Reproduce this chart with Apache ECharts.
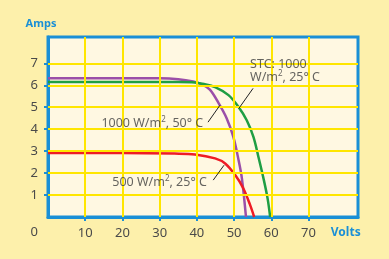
<!DOCTYPE html>
<html>
<head>
<meta charset="utf-8">
<script src="https://cdn.jsdelivr.net/npm/echarts@6/dist/echarts.min.js"></script>
<style>
  html, body { margin: 0; padding: 0; background: #fdf0ab; }
  #chart { width: 389px; height: 259px; }
</style>
</head>
<body>
<div id="chart"></div>
<script>
// tick values
var xTicks = [10, 20, 30, 40, 50, 60, 70];
var yTicks = [1, 2, 3, 4, 5, 6, 7];

// STC: 1000 W/m2, 25 C (green)
var stcVolts = [0, 20, 35, 39.5, 41.5, 44.9, 48.5, 51.2, 53.4, 55.2, 56.6, 57.9, 59, 59.7];
var stcAmps  = [6.15, 6.15, 6.15, 6.13, 6.07, 5.92, 5.55, 5.01, 4.41, 3.65, 2.7, 1.76, 0.85, 0];

// 1000 W/m2, 50 C (purple)
var hotVolts = [0, 20, 30, 35, 39, 41.5, 43.5, 45.8, 48, 49.8, 51.2, 52.1, 53.2];
var hotAmps  = [6.32, 6.32, 6.32, 6.28, 6.17, 6.03, 5.8, 5.2, 4.5, 3.65, 2.6, 1.76, 0];

// 500 W/m2, 25 C (red)
var halfVolts = [0, 20, 34, 39.5, 44.9, 47.6, 50.3, 52.5, 54.3, 55.4];
var halfAmps  = [2.92, 2.92, 2.89, 2.85, 2.67, 2.44, 1.91, 1.3, 0.55, 0];

// annotation anchors [volts, amps] and leader lines
var noteTexts = ['STC: 1000\nW/m{s|2}, 25° C', '1000 W/m{s|2}, 50° C', '500 W/m{s|2}, 25° C'];
var noteAt = [[54.3, 7.25], [41.7, 4.27], [42.7, 1.59]];
var leaderFrom = [[55.1, 5.86], [43, 4.32], [44.4, 1.68]];
var leaderTo = [[51.3, 4.95], [46.2, 5.09], [47.3, 2.36]];

function pairs(xs, ys) {
  return xs.map(function (x, i) { return [x, ys[i]]; });
}

var blue = '#1a8fd6';
var textStyleRich = {
  s: { fontSize: 8, padding: [0, 0, 7, 0], color: '#3d3d3d', fontFamily: 'Noto Sans' }
};

// grid lines only at the labelled ticks (none at 80 V / 8 A)
var gridLines = xTicks.map(function (v) { return { xAxis: v }; })
  .concat(yTicks.map(function (v) { return { yAxis: v }; }));

function curve(name, xs, ys, color, z) {
  return {
    name: name,
    type: 'line',
    data: pairs(xs, ys),
    smooth: 0.35,
    showSymbol: false,
    lineStyle: { color: color, width: 2.5 },
    z: z
  };
}

var chart = echarts.init(document.getElementById('chart'));
var option = {
  animation: false,
  backgroundColor: '#fdf0ab',
  grid: {
    left: 48, right: 31, top: 37, bottom: 42,
    show: true,
    backgroundColor: '#fff8e2',
    borderColor: blue,
    borderWidth: 3
  },
  xAxis: {
    type: 'value',
    min: 0, max: 83.3, interval: 10,
    axisLine: { show: true, lineStyle: { color: blue, width: 3 } },
    axisTick: { show: true, customValues: xTicks, length: 4, lineStyle: { color: blue, width: 2 } },
    splitLine: { show: false },
    axisLabel: {
      customValues: xTicks.concat([80]),
      margin: 10,
      fontSize: 13,
      color: '#4a4a4a',
      fontFamily: 'Noto Sans',
      formatter: function (v) { return v === 80 ? '{v|Volts}' : String(v); },
      rich: { v: { color: blue, fontSize: 12, fontWeight: 'bold', fontFamily: 'Noto Sans' } }
    }
  },
  yAxis: {
    type: 'value',
    min: 0, max: 8.2, interval: 1,
    name: 'Amps',
    nameLocation: 'end',
    nameGap: 8,
    nameTextStyle: { color: blue, fontSize: 11, fontWeight: 'bold', fontFamily: 'Noto Sans', padding: [0, 14, 0, 0] },
    axisLine: { show: true, lineStyle: { color: blue, width: 3 } },
    axisTick: { show: true, customValues: yTicks, length: 4, lineStyle: { color: blue, width: 2 } },
    splitLine: { show: false },
    axisLabel: {
      customValues: [0].concat(yTicks),
      margin: 10,
      fontSize: 13,
      color: '#4a4a4a',
      fontFamily: 'Noto Sans',
      formatter: function (v) { return v === 0 ? '{z|0}' : String(v); },
      rich: { z: { padding: [30, 0, 0, 0], fontSize: 13, color: '#4a4a4a', fontFamily: 'Noto Sans' } }
    }
  },
  series: [
    {
      name: 'grid',
      type: 'scatter',
      data: [],
      silent: true,
      z: 1,
      markLine: {
        silent: true,
        symbol: ['none', 'none'],
        label: { show: false },
        lineStyle: { color: '#ffe600', width: 2, type: 'solid' },
        data: gridLines
      }
    },
    curve('1000 W/m2, 50 C', hotVolts, hotAmps, '#9b4fa8', 3),
    curve('STC', stcVolts, stcAmps, '#1f9e43', 4),
    curve('500 W/m2, 25 C', halfVolts, halfAmps, '#ee1c25', 3),
    {
      name: 'notes',
      type: 'scatter',
      symbolSize: 0,
      silent: true,
      z: 5,
      data: noteAt.map(function (p, i) {
        return {
          value: p,
          label: {
            show: true,
            position: [0, 0],
            formatter: noteTexts[i],
            align: i === 0 ? 'left' : 'right',
            verticalAlign: i === 0 ? 'top' : 'middle',
            fontSize: 12.5,
            lineHeight: 13,
            color: '#3d3d3d',
            fontFamily: 'Noto Sans',
            rich: textStyleRich
          }
        };
      }),
      markLine: {
        silent: true,
        symbol: ['none', 'none'],
        label: { show: false },
        lineStyle: { color: '#222', width: 1, type: 'solid' },
        data: leaderFrom.map(function (p, i) {
          return [{ coord: p }, { coord: leaderTo[i] }];
        })
      }
    }
  ]
};
chart.setOption(option);
</script>
</body>
</html>
